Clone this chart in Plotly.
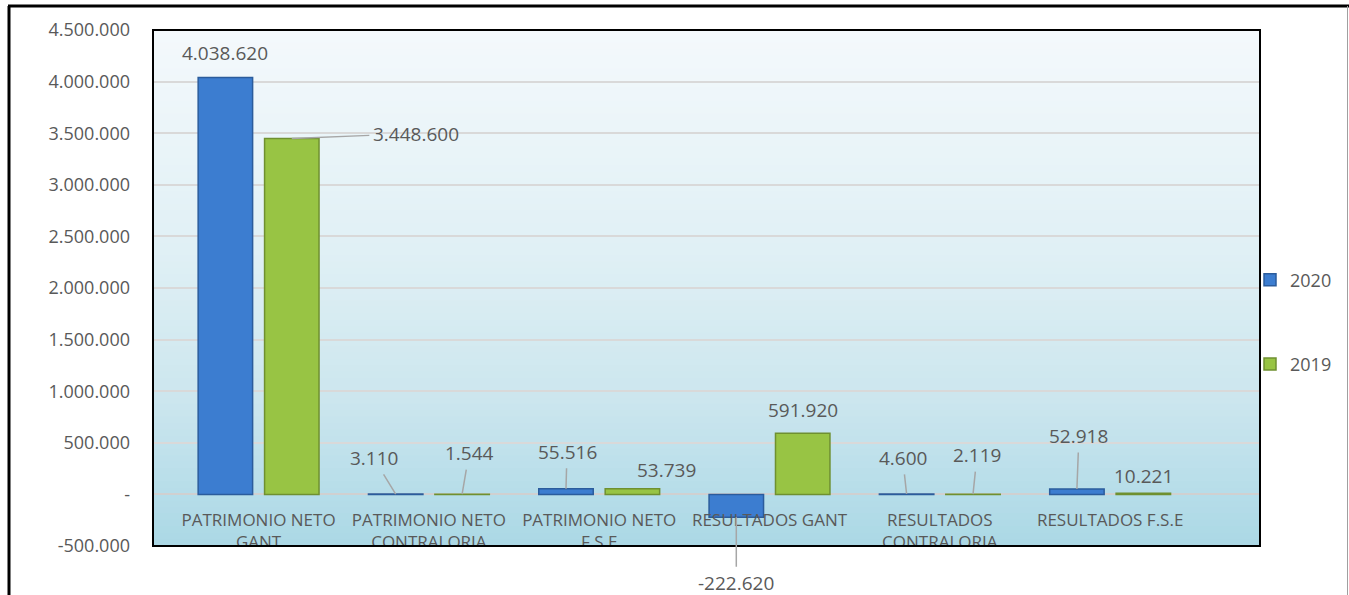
import plotly.graph_objects as go

# ---------------- data ----------------
categories = ["PATRIMONIO NETO GANT", "PATRIMONIO NETO CONTRALORIA", "PATRIMONIO NETO F.S.E",
              "RESULTADOS GANT", "RESULTADOS CONTRALORIA", "RESULTADOS F.S.E"]
category_labels = ["PATRIMONIO NETO<br>GANT", "PATRIMONIO NETO<br>CONTRALORIA", "PATRIMONIO NETO<br>F.S.E",
                   "RESULTADOS GANT", "RESULTADOS<br>CONTRALORIA", "RESULTADOS F.S.E"]
values_2020 = [4038620, 3110, 55516, -222620, 4600, 52918]
values_2019 = [3448600, 1544, 53739, 591920, 2119, 10221]
y_tickvals = [-500000, 0, 500000, 1000000, 1500000, 2000000, 2500000, 3000000, 3500000, 4000000, 4500000]
y_ticktext = ["-500.000", "-", "500.000", "1.000.000", "1.500.000", "2.000.000", "2.500.000",
              "3.000.000", "3.500.000", "4.000.000", "4.500.000"]

# ---------------- styling ----------------
W, H = 1349, 595
PL, PR, PT, PB = 153, 1260, 30, 546          # plot area in pixels
FONT = "Open Sans"
GRAY = "#595959"
BLUE, BLUE_EDGE = "#3c7dd0", "#2b5c9c"
GREEN, GREEN_EDGE = "#98c444", "#6f9030"
OFF = 0.195                                   # half-distance between grouped bar centres (category units)

# label placement: (showarrow, ax, ay, xshift, yshift)
lab_2020 = [(False, 0, 0, 0, 10), (True, -22, -36, 0, 0), (True, 1, -37, 0, 0),
            (True, 0, 66, 0, 0), (True, -4, -36, 0, 0), (True, 2, -53, 0, 0)]
lab_2019 = [(True, 124, -5, 0, 0), (True, 7, -41, 0, 0), (False, 0, 0, 34, 4),
            (False, 0, 0, 0, 8), (True, 4, -39, 0, 0), (False, 0, 0, 0, 2)]


def fmt(v):
    return f"{v:,}".replace(",", ".")


def px_x(p):
    return (p - PL) / (PR - PL)


def px_y(p):
    return (PB - p) / (PB - PT)


fig = go.Figure()
fig.add_trace(go.Bar(name="2020", x=categories, y=values_2020, legendgroup="a",
                     marker=dict(color=BLUE, line=dict(color=BLUE_EDGE, width=1.5))))
fig.add_trace(go.Bar(name="2019", x=categories, y=values_2019, legendgroup="b",
                     marker=dict(color=GREEN, line=dict(color=GREEN_EDGE, width=1.5))))

annotations = []
for series, labs, sign in ((values_2020, lab_2020, -1), (values_2019, lab_2019, 1)):
    for i, (v, lab) in enumerate(zip(series, labs)):
        show, ax, ay, xs, ys = lab
        a = dict(x=i + sign * OFF, y=v, xref="x", yref="y", text=fmt(v),
                 font=dict(family=FONT, size=19, color=GRAY))
        if show:
            a.update(showarrow=True, ax=ax, ay=ay, arrowhead=0, arrowwidth=1.5,
                     arrowcolor="#a6a6a6", standoff=0, startstandoff=2)
        else:
            a.update(showarrow=False, xshift=xs, yshift=ys,
                     yanchor="bottom" if v >= 0 else "top")
        annotations.append(a)

# gradient background (plot area)
stops = [(30, (0xf4, 0xf9, 0xfc)), (250, (0xe0, 0xf0, 0xf5)), (400, (0xcc, 0xe6, 0xee)),
         (494, (0xb6, 0xdd, 0xe9)), (546, (0xab, 0xd8, 0xe5))]
shapes = []
N = 80
for k in range(N):
    y0 = PT + (PB - PT) * k / N
    y1 = PT + (PB - PT) * (k + 1) / N
    ym = (y0 + y1) / 2
    for (a0, c0), (a1, c1) in zip(stops[:-1], stops[1:]):
        if a0 <= ym <= a1:
            t = (ym - a0) / (a1 - a0)
            c = tuple(int(round(c0[j] + (c1[j] - c0[j]) * t)) for j in range(3))
            break
    shapes.append(dict(type="rect", xref="paper", yref="paper", x0=0, x1=1,
                       y0=px_y(y1) - 0.001, y1=px_y(y0) + 0.001, layer="below",
                       fillcolor="rgb(%d,%d,%d)" % c, line=dict(width=0)))

# white mask below plot area (clips second label line), plot border, outer frame
shapes.append(dict(type="rect", xref="paper", yref="paper", x0=0, x1=1, y0=px_y(600), y1=0,
                   layer="above", fillcolor="white", line=dict(width=0)))
shapes.append(dict(type="rect", xref="paper", yref="paper", x0=0, x1=1, y0=0, y1=1,
                   layer="above", line=dict(color="black", width=2)))
shapes.append(dict(type="line", xref="paper", yref="paper", x0=px_x(8), x1=px_x(1349),
                   y0=px_y(6), y1=px_y(6), layer="above", line=dict(color="black", width=3)))
shapes.append(dict(type="line", xref="paper", yref="paper", x0=px_x(9), x1=px_x(9),
                   y0=px_y(6), y1=px_y(600), layer="above", line=dict(color="black", width=3)))
shapes.append(dict(type="line", xref="paper", yref="paper", x0=px_x(1347.5), x1=px_x(1347.5),
                   y0=px_y(6), y1=px_y(600), layer="above", line=dict(color="#a0a0a0", width=1)))

fig.update_layout(
    width=W, height=H,
    margin=dict(l=PL, r=W - PR, t=PT, b=H - PB, pad=0),
    paper_bgcolor="white", plot_bgcolor="rgba(0,0,0,0)",
    barmode="group", bargap=0.22, bargroupgap=0.18,
    font=dict(family=FONT, color=GRAY),
    showlegend=True,
    legend=dict(x=px_x(1250), y=px_y(322), xanchor="left", yanchor="middle",
                font=dict(family=FONT, size=18, color=GRAY),
                tracegroupgap=58, itemwidth=30, bgcolor="rgba(0,0,0,0)"),
    annotations=annotations, shapes=shapes,
    xaxis=dict(tickvals=categories, ticktext=category_labels, range=[-0.62, 5.88],
               anchor="free", position=px_y(494), showline=False, showgrid=False,
               ticks="", ticklabelstandoff=14, tickfont=dict(family=FONT, size=17, color=GRAY)),
    yaxis=dict(range=[-500000, 4500000], tickvals=y_tickvals, ticktext=y_ticktext,
               showgrid=True, gridcolor="#d9d9d9", gridwidth=2,
               zeroline=True, zerolinecolor="#d0d0d0", zerolinewidth=2,
               ticks="", ticklabelstandoff=22, showline=False,
               tickfont=dict(family=FONT, size=18, color=GRAY)),
)

fig.write_html("out.html", config={"displayModeBar": False},
               post_script="document.body.style.margin='0';document.body.style.overflow='hidden';")
